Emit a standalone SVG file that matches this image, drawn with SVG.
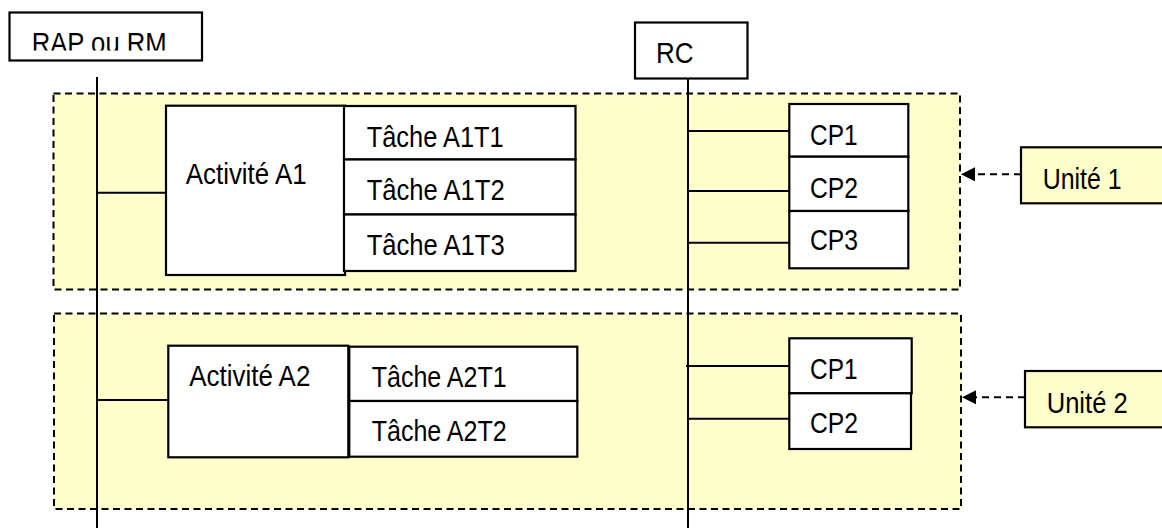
<svg xmlns="http://www.w3.org/2000/svg" width="1162" height="528" viewBox="0 0 1162 528">
<style>
.unit{fill:#FFFFCC;stroke:#000;stroke-width:2;stroke-dasharray:7,4.5}
.box{fill:#fff;stroke:#000;stroke-width:2.2}
.lbl{fill:#FFFFCC;stroke:#000;stroke-width:2.2}
.t{font-family:"Liberation Sans",Arial,sans-serif;font-size:30px;fill:#000}
.ln{stroke:#000;stroke-width:2;fill:none}
.dash{stroke:#000;stroke-width:2;fill:none;stroke-dasharray:7,5}
</style>
<defs>
<marker id="arr" viewBox="0 0 10 10" refX="0" refY="5" markerWidth="15" markerHeight="14" markerUnits="userSpaceOnUse" orient="auto-start-reverse">
<path d="M0,0 L10,5 L0,10 z" fill="#000"/>
</marker>
<clipPath id="clipRap"><rect x="10" y="13" width="190" height="37.5"/></clipPath>
</defs>
<rect width="1162" height="528" fill="#fff"/>
<g id="unit1"><rect class="unit" x="53.5" y="93.5" width="906.5" height="196"/></g>
<g id="unit2"><rect class="unit" x="54" y="313.5" width="907" height="195.5"/></g>
<g id="connectors">
<line class="ln" x1="97" y1="77" x2="97" y2="528"/>
<line class="ln" x1="688" y1="78" x2="688" y2="528"/>
<line class="ln" x1="97" y1="192.7" x2="166" y2="192.7"/>
<line class="ln" x1="97" y1="400" x2="172" y2="400"/>
<line class="ln" x1="688" y1="131" x2="789" y2="131"/>
<line class="ln" x1="688" y1="191" x2="789" y2="191"/>
<line class="ln" x1="688" y1="242.7" x2="789" y2="242.7"/>
<line class="ln" x1="686" y1="366" x2="789" y2="366"/>
<line class="ln" x1="688" y1="418.7" x2="790" y2="418.7"/>
<line class="dash" x1="1021" y1="174.3" x2="975" y2="174.3" marker-end="url(#arr)"/>
<line class="dash" x1="1025" y1="397.3" x2="976" y2="397.3" marker-end="url(#arr)"/>
</g>
<g id="rap"><rect class="box" x="9.5" y="12.5" width="192.5" height="48"/><text class="t" x="31.7" y="53" textLength="135" lengthAdjust="spacingAndGlyphs" clip-path="url(#clipRap)">RAP ou RM</text></g>
<g id="rc"><rect class="box" x="635" y="22.5" width="112.5" height="56"/><text class="t" x="656" y="62.7" textLength="37.5" lengthAdjust="spacingAndGlyphs">RC</text></g>
<g id="activiteA1"><rect class="box" x="166" y="105.7" width="179" height="169.3"/><text class="t" x="185.7" y="184" textLength="121" lengthAdjust="spacingAndGlyphs">Activité A1</text></g>
<g id="tacheA1T1"><rect class="box" x="344" y="106" width="231.5" height="53.5"/><text class="t" x="366.7" y="146.7" textLength="137" lengthAdjust="spacingAndGlyphs">Tâche A1T1</text></g>
<g id="tacheA1T2"><rect class="box" x="344" y="159.5" width="231.5" height="55"/><text class="t" x="366.7" y="200" textLength="138" lengthAdjust="spacingAndGlyphs">Tâche A1T2</text></g>
<g id="tacheA1T3"><rect class="box" x="344" y="214.5" width="231.5" height="56.5"/><text class="t" x="366.7" y="255" textLength="138" lengthAdjust="spacingAndGlyphs">Tâche A1T3</text></g>
<g id="cp1u1"><rect class="box" x="789.3" y="104" width="119" height="52.7"/><text class="t" x="810" y="145" textLength="47.5" lengthAdjust="spacingAndGlyphs">CP1</text></g>
<g id="cp2u1"><rect class="box" x="789.3" y="156.7" width="119" height="54.3"/><text class="t" x="810" y="197.7" textLength="48" lengthAdjust="spacingAndGlyphs">CP2</text></g>
<g id="cp3u1"><rect class="box" x="789.3" y="211" width="119" height="57.3"/><text class="t" x="810" y="250" textLength="48" lengthAdjust="spacingAndGlyphs">CP3</text></g>
<g id="unite1"><rect class="lbl" x="1021" y="147.3" width="150" height="56"/><text class="t" x="1042.7" y="189.3" textLength="79" lengthAdjust="spacingAndGlyphs">Unité 1</text></g>
<g id="activiteA2"><rect class="box" x="168.3" y="345.7" width="180" height="111.6"/><text class="t" x="189.3" y="386" textLength="121" lengthAdjust="spacingAndGlyphs">Activité A2</text></g>
<g id="tacheA2T1"><rect class="box" x="349.3" y="346.7" width="228" height="54.3"/><text class="t" x="371.7" y="386.7" textLength="135" lengthAdjust="spacingAndGlyphs">Tâche A2T1</text></g>
<g id="tacheA2T2"><rect class="box" x="349.3" y="401" width="228" height="55.7"/><text class="t" x="371.7" y="441" textLength="135" lengthAdjust="spacingAndGlyphs">Tâche A2T2</text></g>
<g id="cp1u2"><rect class="box" x="789.3" y="338.3" width="122.4" height="55"/><text class="t" x="810" y="379" textLength="47.5" lengthAdjust="spacingAndGlyphs">CP1</text></g>
<g id="cp2u2"><rect class="box" x="789.3" y="393.3" width="121.7" height="55.7"/><text class="t" x="810" y="433.3" textLength="48" lengthAdjust="spacingAndGlyphs">CP2</text></g>
<g id="unite2"><rect class="lbl" x="1025" y="371" width="150" height="56.3"/><text class="t" x="1046.7" y="412.7" textLength="81" lengthAdjust="spacingAndGlyphs">Unité 2</text></g>
</svg>
